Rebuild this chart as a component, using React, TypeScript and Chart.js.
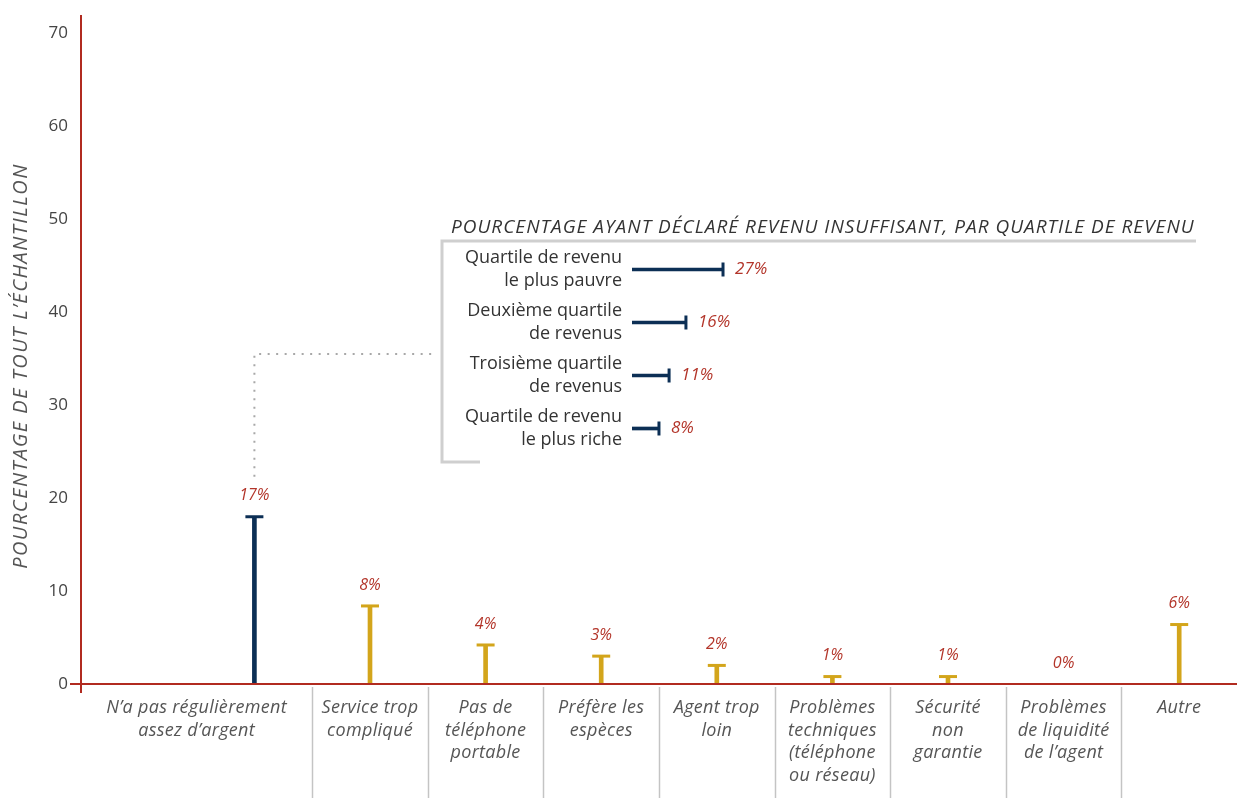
import React, { useEffect, useRef } from 'react';
import { Chart, registerables } from 'chart.js';

Chart.register(...registerables);

// ---------- DATA ----------
const categories: string[][] = [
  ['N’a pas régulièrement', 'assez d’argent'],
  ['Service trop', 'compliqué'],
  ['Pas de', 'téléphone', 'portable'],
  ['Préfère les', 'espèces'],
  ['Agent trop', 'loin'],
  ['Problèmes', 'techniques', '(téléphone', 'ou réseau)'],
  ['Sécurité', 'non', 'garantie'],
  ['Problèmes', 'de liquidité', 'de l’agent'],
  ['Autre'],
];
const values: number[] = [18, 8.4, 4.2, 3.0, 2.0, 0.8, 0.8, 0, 6.4];
const valueLabels: string[] = ['17%', '8%', '4%', '3%', '2%', '1%', '1%', '0%', '6%'];
const yTicks: number[] = [0, 10, 20, 30, 40, 50, 60, 70];

const quartiles: string[][] = [
  ['Quartile de revenu', 'le plus pauvre'],
  ['Deuxième quartile', 'de revenus'],
  ['Troisième quartile', 'de revenus'],
  ['Quartile de revenu', 'le plus riche'],
];
const quartileValues: number[] = [27, 16, 11, 8];
const quartileLabels: string[] = ['27%', '16%', '11%', '8%'];

const yTitle = 'POURCENTAGE DE TOUT L’ÉCHANTILLON';
const insetTitle = 'POURCENTAGE AYANT DÉCLARÉ REVENU INSUFFISANT, PAR QUARTILE DE REVENU';

// ---------- STYLE ----------
const NAVY = '#0c2f55';
const GOLD = '#d3a51b';
const AXIS_RED = '#b12b20';
const LABEL_RED = '#b3352a';
const TEXT_GRAY = '#555555';
const FONT = '"Open Sans", "DejaVu Sans", sans-serif';

export default function App() {
  const mainRef = useRef<HTMLCanvasElement>(null);
  const insetRef = useRef<HTMLCanvasElement>(null);

  useEffect(() => {
    if (!mainRef.current || !insetRef.current) return;

    // slot 0 is left empty so that the first category is wider
    const chartLabels = ['', ...categories.map((c) => c.join(' '))];
    const chartValues = [null, ...values];

    const mainPlugin = {
      id: 'mainDecor',
      afterDraw(chart: any) {
        const { ctx, chartArea } = chart;
        const xs = chart.scales.x;
        const ys = chart.scales.y;
        const y0 = ys.getPixelForValue(0);
        ctx.save();

        // axes
        ctx.strokeStyle = AXIS_RED;
        ctx.lineWidth = 2;
        ctx.beginPath();
        ctx.moveTo(chartArea.left, chartArea.top);
        ctx.lineTo(chartArea.left, y0 + 9);
        ctx.moveTo(chartArea.left - 11, y0);
        ctx.lineTo(chartArea.right, y0);
        ctx.stroke();

        // y title
        ctx.save();
        ctx.translate(21, 366);
        ctx.rotate(-Math.PI / 2);
        ctx.fillStyle = TEXT_GRAY;
        ctx.font = `italic 20px ${FONT}`;
        (ctx as any).letterSpacing = '1.5px';
        ctx.textAlign = 'center';
        ctx.textBaseline = 'middle';
        ctx.fillText(yTitle, 0, 0);
        ctx.restore();

        // separators + x labels
        const half = (xs.getPixelForValue(2) - xs.getPixelForValue(1)) / 2;
        ctx.strokeStyle = '#c4c4c4';
        ctx.lineWidth = 1.5;
        for (let i = 1; i < categories.length; i++) {
          const sx = Math.round(xs.getPixelForValue(i + 1) - half) + 0.5;
          ctx.beginPath();
          ctx.moveTo(sx, y0 + 3);
          ctx.lineTo(sx, chart.height);
          ctx.stroke();
        }
        ctx.fillStyle = TEXT_GRAY;
        ctx.font = `italic 18px ${FONT}`;
        (ctx as any).letterSpacing = '0.3px';
        ctx.textAlign = 'center';
        ctx.textBaseline = 'middle';
        categories.forEach((lines, i) => {
          let cx = xs.getPixelForValue(i + 1);
          if (i === 0) cx = (chartArea.left + cx + half) / 2;
          lines.forEach((ln, j) => ctx.fillText(ln, cx, y0 + 24 + j * 22.5));
        });
        (ctx as any).letterSpacing = '0px';

        // value labels
        const meta = chart.getDatasetMeta(1);
        ctx.fillStyle = LABEL_RED;
        ctx.font = `italic 16px ${FONT}`;
        values.forEach((v, i) => {
          const el = meta.data[i + 1];
          ctx.fillText(valueLabels[i], el.x, el.y - 21);
        });

        // dotted connector from first bar to inset
        const first = meta.data[1];
        ctx.strokeStyle = '#a8a8a8';
        ctx.lineWidth = 2;
        ctx.setLineDash([2, 6.5]);
        ctx.beginPath();
        ctx.moveTo(first.x, first.y - 40);
        ctx.lineTo(first.x, 354);
        ctx.lineTo(432, 354);
        ctx.stroke();
        ctx.setLineDash([]);

        // inset bracket
        ctx.strokeStyle = '#cfcfcf';
        ctx.lineWidth = 3;
        ctx.beginPath();
        ctx.moveTo(1196, 241);
        ctx.lineTo(442, 241);
        ctx.lineTo(442, 462);
        ctx.lineTo(480, 462);
        ctx.stroke();

        // inset title
        ctx.fillStyle = '#333333';
        ctx.font = `italic 19px ${FONT}`;
        (ctx as any).letterSpacing = '1px';
        ctx.textAlign = 'left';
        ctx.textBaseline = 'middle';
        ctx.fillText(insetTitle, 451, 228);
        (ctx as any).letterSpacing = '0px';

        ctx.restore();
      },
    };

    const main = new Chart(mainRef.current, {
      type: 'bar',
      data: {
        labels: chartLabels,
        datasets: [
          {
            type: 'bar',
            data: chartValues,
            backgroundColor: (c: any) => (c.dataIndex === 1 ? NAVY : GOLD),
            barThickness: 4,
            order: 2,
          },
          {
            type: 'line',
            data: chartValues,
            showLine: false,
            pointStyle: 'line',
            pointRadius: (c: any) => (c.raw ? 9 : 0),
            pointBorderWidth: 3,
            pointBorderColor: (c: any) => (c.dataIndex === 1 ? NAVY : GOLD),
            order: 1,
          },
        ] as any,
      },
      options: {
        animation: false,
        responsive: false,
        events: [],
        layout: { autoPadding: false, padding: { top: 15, right: 2, bottom: 114, left: 0 } },
        plugins: { legend: { display: false }, tooltip: { enabled: false } },
        scales: {
          x: { display: false, offset: true },
          y: {
            min: 0,
            max: 72,
            afterBuildTicks: (s: any) => {
              s.ticks = yTicks.map((v) => ({ value: v }));
            },
            afterFit: (s: any) => {
              s.width = 81;
              s.paddingTop = 0;
              s.paddingBottom = 0;
            },
            grid: { display: false, drawTicks: false },
            border: { display: false },
            ticks: {
              padding: 13,
              color: '#444444',
              font: { family: FONT, size: 17 },
            },
          },
        },
      },
      plugins: [mainPlugin],
    } as any);

    const insetPlugin = {
      id: 'insetDecor',
      afterDraw(chart: any) {
        const { ctx } = chart;
        const meta = chart.getDatasetMeta(1);
        ctx.save();
        ctx.fillStyle = LABEL_RED;
        ctx.font = `italic 17px ${FONT}`;
        ctx.textAlign = 'left';
        ctx.textBaseline = 'middle';
        quartileValues.forEach((v, i) => {
          const el = meta.data[i];
          ctx.fillText(quartileLabels[i], el.x + 12, el.y);
        });
        ctx.restore();
      },
    };

    const inset = new Chart(insetRef.current, {
      type: 'bar',
      data: {
        labels: quartiles,
        datasets: [
          {
            type: 'bar',
            data: quartileValues,
            backgroundColor: NAVY,
            barThickness: 3,
            order: 2,
          },
          {
            type: 'line',
            indexAxis: 'y',
            data: quartileValues,
            showLine: false,
            pointStyle: 'line',
            pointRadius: 7,
            pointRotation: 90,
            pointBorderWidth: 3,
            pointBorderColor: NAVY,
            order: 1,
          },
        ] as any,
      },
      options: {
        indexAxis: 'y',
        animation: false,
        responsive: false,
        events: [],
        layout: { autoPadding: false, padding: 0 },
        plugins: { legend: { display: false }, tooltip: { enabled: false } },
        scales: {
          x: { display: false, min: 0, max: 62 },
          y: {
            afterFit: (s: any) => {
              s.width = 191;
              s.paddingTop = 0;
              s.paddingBottom = 0;
            },
            grid: { display: false, drawTicks: false },
            border: { display: false },
            ticks: {
              autoSkip: false,
              padding: 10,
              color: '#333333',
              font: { family: FONT, size: 18, lineHeight: 1.28 },
            },
          },
        },
      },
      plugins: [insetPlugin],
    } as any);

    return () => {
      main.destroy();
      inset.destroy();
    };
  }, []);

  return (
    <div style={{ position: 'fixed', left: 0, top: 0, width: 1239, height: 798, background: '#fff' }}>
      <canvas ref={mainRef} width={1239} height={798} style={{ position: 'absolute', left: 0, top: 0 }} />
      <canvas ref={insetRef} width={400} height={212} style={{ position: 'absolute', left: 441, top: 243 }} />
    </div>
  );
}
